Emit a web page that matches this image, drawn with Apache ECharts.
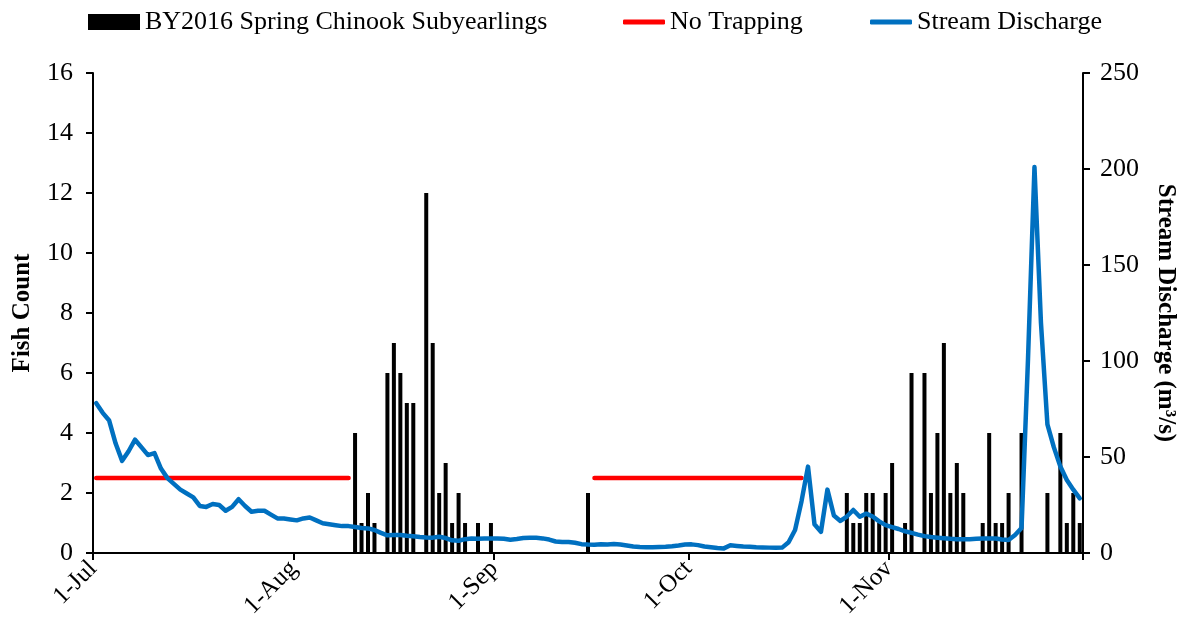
<!DOCTYPE html>
<html>
<head>
<meta charset="utf-8">
<script src="https://cdn.jsdelivr.net/npm/echarts@6/dist/echarts.min.js"></script>
<style>html,body{margin:0;padding:0;background:#fff;}#chart{width:1187px;height:633px;}</style>
</head>
<body>
<div id="chart"></div>
<script>
// ---- data ----
const seasonStart = '2017-07-01';
const seasonEnd = '2017-12-01';
const tickDates = ['2017-07-01','2017-08-01','2017-09-01','2017-10-01','2017-11-01','2017-12-01'];
const tickLabels = ['1-Jul','1-Aug','1-Sep','1-Oct','1-Nov',''];

const fishDates = ['2017-08-10','2017-08-11','2017-08-12','2017-08-13','2017-08-15','2017-08-16','2017-08-17','2017-08-18','2017-08-19','2017-08-21','2017-08-22','2017-08-23','2017-08-24','2017-08-25','2017-08-26','2017-08-27','2017-08-29','2017-08-31','2017-09-15',
  '2017-10-25','2017-10-26','2017-10-27','2017-10-28','2017-10-29','2017-10-30','2017-10-31','2017-11-01','2017-11-03','2017-11-04','2017-11-06','2017-11-07','2017-11-08','2017-11-09','2017-11-10','2017-11-11','2017-11-12','2017-11-15','2017-11-16','2017-11-17','2017-11-18','2017-11-19','2017-11-21','2017-11-25','2017-11-27','2017-11-28','2017-11-29','2017-11-30'];
const fishCounts = [4,1,2,1,6,7,6,5,5,12,7,2,3,1,2,1,1,1,2,
  2,1,1,2,2,1,2,3,1,6,6,2,4,7,2,3,2,1,4,1,1,2,4,2,4,1,2,1];

const noTrapStarts = ['2017-07-01','2017-09-16'];
const noTrapEnds = ['2017-08-09','2017-10-18'];
const noTrapLevel = 2.5;

// daily discharge (m3/s), 1-Jul to 30-Nov
const dischargeStart = '2017-07-01';
const discharge = [
  78,73,69,57,48,53,59,55,51,52,
  44,39,36,33,31,29,24.5,24,25.5,25,
  22,24,28,24.5,21.5,22,22,20,18,18,
  17.5,17,18,18.5,17,15.5,15,14.5,14,14,
  13.5,13,12.8,12,10.5,9.2,9.4,9.4,9,8.7,
  8.3,8.1,8,8.5,7.8,6.6,6.4,7.2,7.6,7.4,
  7.5,7.5,7.6,7.4,6.9,7.3,7.8,8,7.9,7.6,
  7,6,5.7,5.7,5.3,4.6,4.4,4.3,4.6,4.4,
  4.7,4.4,3.9,3.4,3.1,3,3,3.1,3.2,3.5,
  3.9,4.4,4.5,4.1,3.4,3,2.6,2.4,4,3.7,
  3.4,3.2,3,2.9,2.8,2.7,2.8,5.6,12,27,
  45,15,11,33,19.5,16.7,19,22.4,18.9,20.5,
  19,16.5,14.5,13.5,12.5,11.3,10.5,9.6,8.8,8.3,
  8,7.7,7.4,7.2,7.1,7.2,7.4,7.6,7.6,7.5,
  7,6.8,9.4,13,101,201,120,67,55,45,
  38,33,28.5
];

// ---- helpers ----
const DAY = 864e5;
const t0 = Date.parse(seasonStart);
const dayPos = d => (Date.parse(d) - t0) / DAY;
const tickPos = tickDates.map(dayPos);
const labelMap = {};
tickPos.forEach((p, i) => { labelMap[p] = tickLabels[i]; });

const barData = fishDates.map((d, i) => [dayPos(d) + 0.5, fishCounts[i]]);
const noTrapData = [];
noTrapStarts.forEach((s, i) => {
  noTrapData.push([dayPos(s) + 0.5, noTrapLevel]);
  noTrapData.push([dayPos(noTrapEnds[i]) + 0.5, noTrapLevel]);
  noTrapData.push([dayPos(noTrapEnds[i]) + 0.6, '-']);
});
const d0 = dayPos(dischargeStart);
const dischargeData = discharge.map((v, i) => [d0 + i + 0.5, v]);

const FONT = 'Liberation Serif';
const chart = echarts.init(document.getElementById('chart'), null, {renderer: 'canvas'});
const legendText = {fontFamily: FONT, fontSize: 26, color: '#000'};
chart.setOption({
  animation: false,
  backgroundColor: '#fff',
  legend: [
    {data: [{name: 'BY2016 Spring Chinook Subyearlings', icon: 'rect'}], left: 88, top: 9, padding: 0, itemWidth: 52, itemHeight: 16, textStyle: legendText},
    {data: [{name: 'No Trapping', icon: 'roundRect'}], left: 623, top: 9, padding: 0, itemWidth: 42, itemHeight: 5, textStyle: legendText},
    {data: [{name: 'Stream Discharge', icon: 'roundRect'}], left: 870, top: 9, padding: 0, itemWidth: 42, itemHeight: 5, textStyle: legendText}
  ],
  grid: {left: 93, right: 104, top: 73, bottom: 80},
  xAxis: {
    type: 'value', min: dayPos(seasonStart), max: dayPos(seasonEnd),
    axisLine: {lineStyle: {color: '#000', width: 2}},
    axisTick: {show: true, length: 7, lineStyle: {color: '#000', width: 2}, customValues: tickPos},
    axisLabel: {customValues: tickPos.slice(0, 5), rotate: 45, margin: 12, fontFamily: FONT, fontSize: 25, color: '#000',
      formatter: v => labelMap[v] || ''},
    splitLine: {show: false}
  },
  yAxis: [
    {type: 'value', min: 0, max: 16, interval: 2, name: 'Fish Count', nameLocation: 'middle', nameGap: 58,
      nameTextStyle: {fontFamily: FONT, fontSize: 25, fontWeight: 'bold', color: '#000'},
      axisLine: {show: true, lineStyle: {color: '#000', width: 2}},
      axisTick: {show: true, length: 7, lineStyle: {color: '#000', width: 2}},
      axisLabel: {margin: 20, fontFamily: FONT, fontSize: 26, color: '#000'},
      splitLine: {show: false}},
    {type: 'value', min: 0, max: 250, interval: 50, name: 'Stream Discharge (m³/s)', nameLocation: 'middle', nameGap: 70, nameRotate: -90,
      nameTextStyle: {fontFamily: FONT, fontSize: 25, fontWeight: 'bold', color: '#000'},
      axisLine: {show: true, lineStyle: {color: '#000', width: 2}},
      axisTick: {show: true, length: 7, lineStyle: {color: '#000', width: 2}},
      axisLabel: {margin: 17, fontFamily: FONT, fontSize: 26, color: '#000'},
      splitLine: {show: false}}
  ],
  series: [
    {name: 'BY2016 Spring Chinook Subyearlings', type: 'bar', data: barData, barWidth: 4, itemStyle: {color: '#000'}, z: 2},
    {name: 'No Trapping', type: 'line', data: noTrapData, yAxisIndex: 0, symbol: 'none', connectNulls: false,
      lineStyle: {color: '#FF0000', width: 4.5, cap: 'round'}, itemStyle: {color: '#FF0000'}, z: 3},
    {name: 'Stream Discharge', type: 'line', data: dischargeData, yAxisIndex: 1, symbol: 'none',
      lineStyle: {color: '#0070C0', width: 4.5, cap: 'round', join: 'round'}, itemStyle: {color: '#0070C0'}, z: 4}
  ]
});
</script>
</body>
</html>
